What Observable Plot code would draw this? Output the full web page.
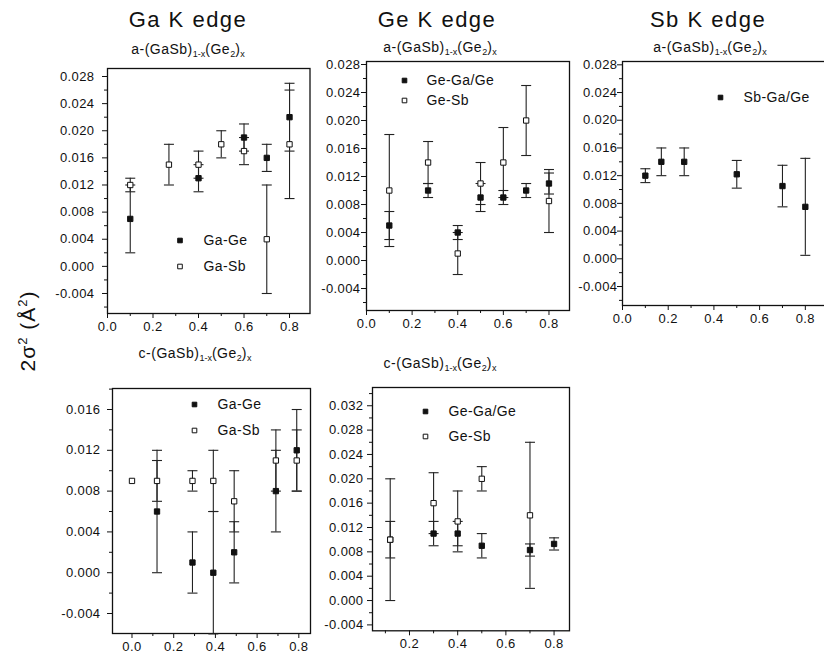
<!DOCTYPE html>
<html><head><meta charset="utf-8">
<script src="https://cdn.jsdelivr.net/npm/d3@7"></script>
<script src="https://cdn.jsdelivr.net/npm/@observablehq/plot@0.6"></script>
<style>
html,body{margin:0;padding:0;background:#fff;overflow:hidden;}
#fig{position:relative;width:824px;height:654px;font-family:"Liberation Sans",Arial,sans-serif;color:#111;overflow:hidden;}
.title{position:absolute;font-size:22px;letter-spacing:1.5px;transform:translateX(-50%);white-space:nowrap;line-height:1;}
.sub{position:absolute;font-size:14px;letter-spacing:0.5px;transform:translateX(-50%);white-space:nowrap;line-height:1;}
.sub sub{font-size:9px;vertical-align:baseline;position:relative;top:3px;letter-spacing:0;}
.ylab{position:absolute;font-size:21px;letter-spacing:1px;transform:translate(-50%,-50%) rotate(-90deg);white-space:nowrap;line-height:1;}
.ylab sup{font-size:13px;vertical-align:baseline;position:relative;top:-8px;}
</style></head>
<body><div id="fig">
<div class="title" style="left:188px;top:9px">Ga K edge</div>
<div class="title" style="left:437px;top:9px">Ge K edge</div>
<div class="title" style="left:708px;top:9px">Sb K edge</div>
<div class="sub" style="left:188px;top:42px">a-(GaSb)<sub>1-x</sub>(Ge<sub>2</sub>)<sub>x</sub></div>
<div class="sub" style="left:440px;top:40px">a-(GaSb)<sub>1-x</sub>(Ge<sub>2</sub>)<sub>x</sub></div>
<div class="sub" style="left:710px;top:40px">a-(GaSb)<sub>1-x</sub>(Ge<sub>2</sub>)<sub>x</sub></div>
<div class="sub" style="left:195px;top:346px">c-(GaSb)<sub>1-x</sub>(Ge<sub>2</sub>)<sub>x</sub></div>
<div class="sub" style="left:440px;top:356px">c-(GaSb)<sub>1-x</sub>(Ge<sub>2</sub>)<sub>x</sub></div>
<div class="ylab" style="left:27px;top:331px">2σ<sup>2</sup> (Å<sup>2</sup>)</div>
</div>
<script>
// ---------- data ----------
// Ga K edge, amorphous
const gaA_GaGe_x = [0.1, 0.4, 0.6, 0.7, 0.8];
const gaA_GaGe_y = [0.007, 0.013, 0.019, 0.016, 0.022];
const gaA_GaGe_e = [0.005, 0.002, 0.002, 0.002, 0.005];
const gaA_GaSb_x = [0.1, 0.27, 0.4, 0.5, 0.6, 0.7, 0.8];
const gaA_GaSb_y = [0.012, 0.015, 0.015, 0.018, 0.017, 0.004, 0.018];
const gaA_GaSb_e = [0.001, 0.003, 0.002, 0.002, 0.002, 0.008, 0.008];
// Ge K edge, amorphous
const geA_GeGa_x = [0.1, 0.27, 0.4, 0.5, 0.6, 0.7, 0.8];
const geA_GeGa_y = [0.005, 0.010, 0.004, 0.009, 0.009, 0.010, 0.011];
const geA_GeGa_e = [0.002, 0.001, 0.001, 0.002, 0.001, 0.001, 0.0015];
const geA_GeSb_x = [0.1, 0.27, 0.4, 0.5, 0.6, 0.7, 0.8];
const geA_GeSb_y = [0.010, 0.014, 0.001, 0.011, 0.014, 0.020, 0.0085];
const geA_GeSb_e = [0.008, 0.003, 0.003, 0.003, 0.005, 0.005, 0.0045];
// Sb K edge, amorphous
const sbA_x = [0.1, 0.17, 0.27, 0.5, 0.7, 0.8];
const sbA_y = [0.012, 0.014, 0.014, 0.0122, 0.0105, 0.0075];
const sbA_e = [0.001, 0.002, 0.002, 0.002, 0.003, 0.007];
// Ga K edge, crystalline
const gaC_GaGe_x = [0.12, 0.29, 0.39, 0.49, 0.69, 0.79];
const gaC_GaGe_y = [0.006, 0.001, 0.000, 0.002, 0.008, 0.012];
const gaC_GaGe_e = [0.006, 0.003, 0.006, 0.003, 0.004, 0.004];
const gaC_GaSb_x = [0.0, 0.12, 0.29, 0.39, 0.49, 0.69, 0.79];
const gaC_GaSb_y = [0.009, 0.009, 0.009, 0.009, 0.007, 0.011, 0.011];
const gaC_GaSb_e = [0, 0.002, 0.001, 0.003, 0.003, 0.003, 0.003];
// Ge K edge, crystalline
const geC_GeGa_x = [0.12, 0.3, 0.4, 0.5, 0.7, 0.8];
const geC_GeGa_y = [0.010, 0.011, 0.011, 0.009, 0.0083, 0.0093];
const geC_GeGa_e = [0.003, 0.002, 0.002, 0.002, 0.001, 0.001];
const geC_GeSb_x = [0.12, 0.3, 0.4, 0.5, 0.7];
const geC_GeSb_y = [0.010, 0.016, 0.013, 0.020, 0.014];
const geC_GeSb_e = [0.010, 0.005, 0.005, 0.002, 0.012];

// tick values
const xTicksA = [0, 0.2, 0.4, 0.6, 0.8];
const xMinorA = [0.1, 0.3, 0.5, 0.7];
const xTicksC2 = [0.2, 0.4, 0.6, 0.8];
const yTicksA = [-0.004, 0, 0.004, 0.008, 0.012, 0.016, 0.020, 0.024, 0.028];
const yMinorA = [-0.006, -0.002, 0.002, 0.006, 0.010, 0.014, 0.018, 0.022, 0.026];
const yTicksC1 = [-0.004, 0, 0.004, 0.008, 0.012, 0.016];
const yMinorC1 = [-0.002, 0.002, 0.006, 0.010, 0.014, 0.018];
const yTicksC2 = [-0.004, 0, 0.004, 0.008, 0.012, 0.016, 0.020, 0.024, 0.028, 0.032];
const yMinorC2 = [-0.002, 0.002, 0.006, 0.010, 0.014, 0.018, 0.022, 0.026, 0.030, 0.034];

// ---------- drawing ----------
const rows = (xs, ys, es) => xs.map((x, i) => ({x, y: ys[i], e: es[i]}));
const fmtY = d => d3.format(".3f")(d).replace("\u2212", "-");
const fmtX = d => d3.format(".1f")(d);
const cap = {draw(ctx, size) { const r = Math.sqrt(size / Math.PI); ctx.moveTo(-r, 0); ctx.lineTo(r, 0); }};
const INK = "#111";
const mL = 60, mR = 6, mT = 6, mB = 30;

function panel(cfg) {
  const {frame, xDomain, yDomain, xTicks, xMinor, yTicks, yMinor, yPad, series, legend} = cfg;
  const inDom = (v, dom) => v >= dom[0] - 1e-9 && v <= dom[1] + 1e-9;
  const all = series.flatMap(s => s.data).filter(d => d.e > 0);
  const marks = [
    Plot.axisY(yMinor.filter(v => inDom(v, yDomain)), {anchor: "left", tickSize: 3, tickFormat: () => "", label: null, stroke: INK}),
    Plot.axisY(yTicks, {anchor: "left", tickSize: 5, tickPadding: yPad, tickFormat: fmtY, label: null, fontSize: 13, stroke: INK}),
    Plot.axisX(xMinor.filter(v => inDom(v, xDomain)), {anchor: "bottom", tickSize: 3, tickFormat: () => "", label: null, stroke: INK}),
    Plot.axisX(xTicks, {anchor: "bottom", tickSize: 5, tickPadding: 3, tickFormat: fmtX, label: null, fontSize: 13, stroke: INK}),
    Plot.frame({stroke: INK, strokeWidth: 1.3}),
    Plot.ruleX(all, {x: "x", y1: d => d.y - d.e, y2: d => d.y + d.e, stroke: "#222", strokeWidth: 1.1}),
    Plot.dot(all, {x: "x", y: d => d.y + d.e, symbol: cap, r: 5, stroke: "#222", fill: "none", strokeWidth: 1.1}),
    Plot.dot(all, {x: "x", y: d => d.y - d.e, symbol: cap, r: 5, stroke: "#222", fill: "none", strokeWidth: 1.1})
  ];
  for (const s of series) {
    marks.push(Plot.dot(s.data, {x: "x", y: "y", symbol: "square", r: 3,
      fill: s.filled ? INK : "white", stroke: INK, strokeWidth: 1}));
  }
  series.forEach((s, i) => {
    marks.push(Plot.dot([s.name], {frameAnchor: "top-left", dx: legend.dx, dy: legend.dy + i * legend.gap,
      symbol: "square", r: 2.6, fill: s.filled ? INK : "white", stroke: INK, strokeWidth: 1}));
    marks.push(Plot.text([s.name], {frameAnchor: "top-left", dx: legend.tdx, dy: legend.dy + i * legend.gap,
      text: d => d, textAnchor: "start", lineAnchor: "middle", fontSize: 14, fill: INK}));
  });
  const svg = Plot.plot({
    width: frame.width + mL + mR, height: frame.height + mT + mB,
    marginLeft: mL, marginRight: mR, marginTop: mT, marginBottom: mB,
    x: {domain: xDomain}, y: {domain: yDomain},
    style: {background: "transparent", fontFamily: "'Liberation Sans', Arial, sans-serif", fontSize: "13px",
            color: INK, overflow: "visible", letterSpacing: "0.4px"},
    marks
  });
  svg.style.position = "absolute";
  svg.style.left = (frame.left - mL) + "px";
  svg.style.top = (frame.top - mT) + "px";
  document.getElementById("fig").appendChild(svg);
}

panel({
  frame: {left: 106.5, top: 68, width: 202.5, height: 245},
  xDomain: [0, 0.89], yDomain: [-0.00695, 0.02918],
  xTicks: xTicksA, xMinor: xMinorA, yTicks: yTicksA, yMinor: yMinorA, yPad: 8,
  series: [
    {name: "Ga-Ge", filled: true, data: rows(gaA_GaGe_x, gaA_GaGe_y, gaA_GaGe_e)},
    {name: "Ga-Sb", filled: false, data: rows(gaA_GaSb_x, gaA_GaSb_y, gaA_GaSb_e)}
  ],
  legend: {dx: 72.5, dy: 172, gap: 26, tdx: 96}
});
panel({
  frame: {left: 366, top: 61, width: 203, height: 249},
  xDomain: [0, 0.89], yDomain: [-0.00714, 0.02843],
  xTicks: xTicksA, xMinor: xMinorA, yTicks: yTicksA, yMinor: yMinorA, yPad: 1,
  series: [
    {name: "Ge-Ga/Ge", filled: true, data: rows(geA_GeGa_x, geA_GeGa_y, geA_GeGa_e)},
    {name: "Ge-Sb", filled: false, data: rows(geA_GeSb_x, geA_GeSb_y, geA_GeSb_e)}
  ],
  legend: {dx: 38, dy: 19, gap: 20, tdx: 60}
});
panel({
  frame: {left: 622, top: 61, width: 205, height: 244},
  xDomain: [0, 0.897], yDomain: [-0.00674, 0.02848],
  xTicks: xTicksA, xMinor: xMinorA, yTicks: yTicksA, yMinor: yMinorA, yPad: 0,
  series: [
    {name: "Sb-Ga/Ge", filled: true, data: rows(sbA_x, sbA_y, sbA_e)}
  ],
  legend: {dx: 98, dy: 36, gap: 20, tdx: 121}
});
panel({
  frame: {left: 111.5, top: 388, width: 198, height: 245},
  xDomain: [-0.0935, 0.856], yDomain: [-0.00596, 0.01806],
  xTicks: xTicksA, xMinor: xMinorA, yTicks: yTicksC1, yMinor: yMinorC1, yPad: 7,
  series: [
    {name: "Ga-Ge", filled: true, data: rows(gaC_GaGe_x, gaC_GaGe_y, gaC_GaGe_e)},
    {name: "Ga-Sb", filled: false, data: rows(gaC_GaSb_x, gaC_GaSb_y, gaC_GaSb_e)}
  ],
  legend: {dx: 82, dy: 16, gap: 26, tdx: 105}
});
panel({
  frame: {left: 372, top: 386.7, width: 197, height: 243.3},
  xDomain: [0.0465, 0.864], yDomain: [-0.00497, 0.035],
  xTicks: xTicksC2, xMinor: xMinorA, yTicks: yTicksC2, yMinor: yMinorC2, yPad: 4,
  series: [
    {name: "Ge-Ga/Ge", filled: true, data: rows(geC_GeGa_x, geC_GeGa_y, geC_GeGa_e)},
    {name: "Ge-Sb", filled: false, data: rows(geC_GeSb_x, geC_GeSb_y, geC_GeSb_e)}
  ],
  legend: {dx: 53, dy: 24, gap: 25, tdx: 76}
});
</script></body></html>
